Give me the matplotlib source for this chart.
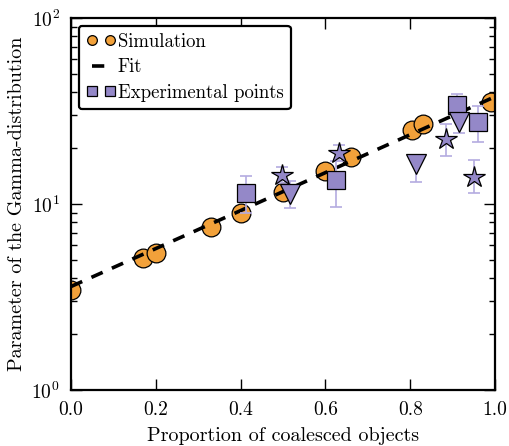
import matplotlib
matplotlib.use("Agg")
import matplotlib.pyplot as plt
from matplotlib.lines import Line2D
import numpy as np

# ==========================================================
# Fonts: Computer Modern look
# ==========================================================
plt.rcParams["font.family"] = "serif"
plt.rcParams["font.serif"] = ["cmr10"]
plt.rcParams["mathtext.fontset"] = "cm"
plt.rcParams["axes.formatter.use_mathtext"] = True

# ==========================================================
# Data
# ==========================================================
sim_x = [0.0, 0.17, 0.20, 0.33, 0.40, 0.50, 0.60, 0.66, 0.805, 0.83, 0.99]
sim_y = [3.45, 5.1, 5.45, 7.5, 8.95, 11.6, 15.0, 17.9, 25.0, 26.9, 35.3]

# Fit: y = a * exp(b * x)
fit_a = 3.6
fit_b = 2.35

# experimental points: squares
sq_x = [0.413, 0.625, 0.91, 0.96]
sq_y = [11.5, 13.5, 34.1, 27.6]
sq_lo = [8.95, 9.6, 30.0, 21.5]
sq_hi = [14.2, 17.0, 39.0, 33.6]

# triangles
tri_x = [0.516, 0.813, 0.915]
tri_y = [11.3, 16.4, 27.6]
tri_lo = [9.55, 13.1, 24.1]
tri_hi = [13.3, 18.3, 31.0]

# stars
st_x = [0.497, 0.632, 0.884, 0.95]
st_y = [14.3, 18.8, 22.4, 14.0]
st_lo = [13.0, 17.0, 18.1, 11.5]
st_hi = [15.8, 20.8, 26.9, 17.2]

orange = "#f2a13a"
purple = "#9488c8"
err_col = "#b4abe0"

fig = plt.figure(figsize=(5.09, 4.46), dpi=100)
ax = fig.add_axes([0.1395, 0.1256, 0.833, 0.834])

# simulation
ax.plot(sim_x, sim_y, "o", color=orange, mec="black", mew=0.9, ms=13.5,
        linestyle="none", zorder=2)

# fit line
xf = np.linspace(0, 1, 200)
ax.plot(xf, fit_a * np.exp(fit_b * xf), "--", color="black", lw=2.6,
        dashes=(3.4, 2.8), zorder=3)


def exp_points(xs, ys, lo, hi, marker, ms):
    ys = np.array(ys)
    yerr = [ys - np.array(lo), np.array(hi) - ys]
    ax.errorbar(xs, ys, yerr=yerr, fmt="none", ecolor=err_col, elinewidth=1.2,
                capsize=4.5, capthick=1.2, zorder=4)
    ax.plot(xs, ys, marker, color=purple, mec="black", mew=0.9, ms=ms,
            linestyle="none", zorder=5)


exp_points(sq_x, sq_y, sq_lo, sq_hi, "s", 13)
exp_points(tri_x, tri_y, tri_lo, tri_hi, "v", 14)
exp_points(st_x, st_y, st_lo, st_hi, "*", 16)

ax.set_yscale("log")
ax.set_xlim(0, 1)
ax.set_ylim(1, 100)
ax.set_xticks([0.0, 0.2, 0.4, 0.6, 0.8, 1.0])
ax.set_xticklabels(["0.0", "0.2", "0.4", "0.6", "0.8", "1.0"])
ax.tick_params(which="both", direction="in", top=True, right=True,
               labelsize=14, width=1)
ax.tick_params(which="major", length=8, pad=8)
ax.tick_params(which="minor", length=4)
for s in ax.spines.values():
    s.set_linewidth(1.6)

ax.set_xlabel("Proportion of coalesced objects", fontsize=14.5, labelpad=6)
ax.set_ylabel("Parameter of the Gamma-distribution", fontsize=14.5, labelpad=4)

handles = [
    Line2D([], [], marker="o", color=orange, mec="black", mew=0.9, ms=7,
           linestyle="none"),
    Line2D([], [], color="black", lw=2.6, linestyle="--", dashes=(3.4, 2.8)),
    Line2D([], [], marker="s", color=purple, mec="black", mew=0.9, ms=7,
           linestyle="none"),
]
leg = ax.legend(handles, ["Simulation", "Fit", "Experimental points"],
                loc="upper left", numpoints=2, fontsize=13.5, handlelength=1.6,
                handletextpad=0.1, borderpad=0.4, labelspacing=0.4,
                fancybox=True, framealpha=1, borderaxespad=0.4)
leg.get_frame().set_edgecolor("black")
leg.get_frame().set_linewidth(1.6)

fig.savefig("out.png", dpi=100)
